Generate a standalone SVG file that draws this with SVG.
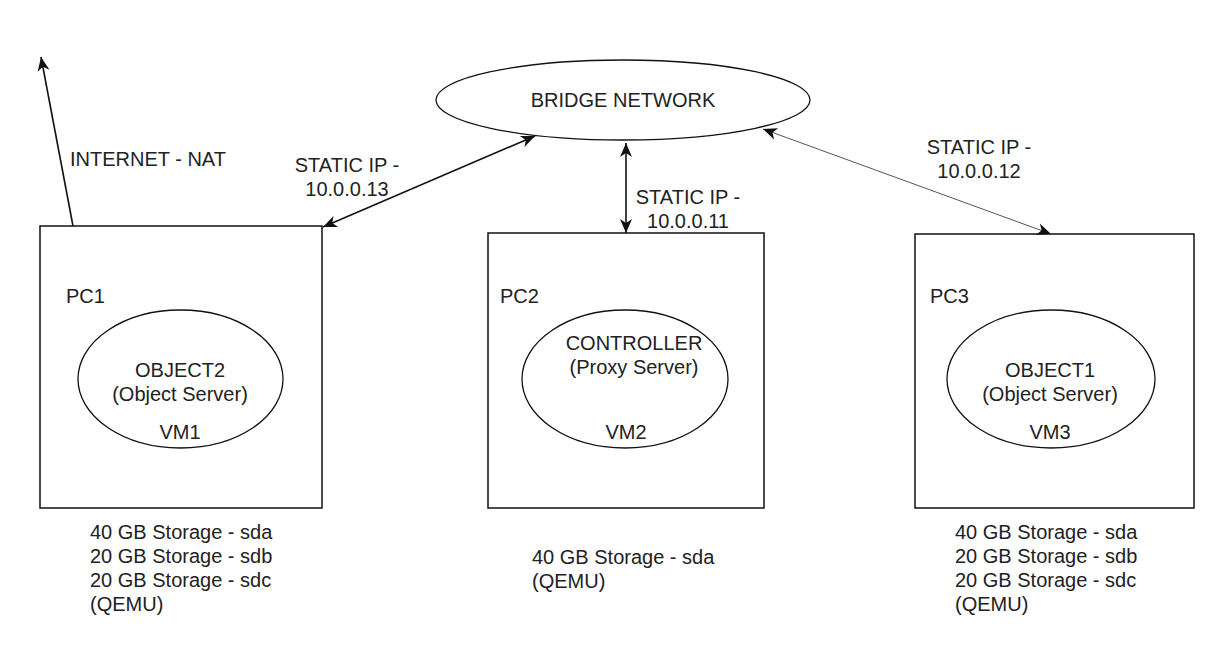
<svg xmlns="http://www.w3.org/2000/svg" width="1214" height="672" viewBox="0 0 1214 672">
<style>
text{font-family:"Liberation Sans",Arial,Helvetica,sans-serif;font-size:20px;fill:#222}
.c{text-anchor:middle}
.box{fill:#fff;stroke:#111;stroke-width:1.5}
.ell{fill:#fff;stroke:#111;stroke-width:1.3}
.ln{fill:none;stroke:#111;stroke-width:1.6}
.thin{fill:none;stroke:#555;stroke-width:1}
</style>
<defs>
<marker id="ar" markerUnits="userSpaceOnUse" markerWidth="16" markerHeight="12" refX="14" refY="6" orient="auto-start-reverse" overflow="visible">
<path d="M0,0 L14,6 L0,12 L4,6 z" fill="#111"/>
</marker>
</defs>
<rect width="1214" height="672" fill="#fff"/>
<g id="bridge">
<ellipse class="ell" cx="623" cy="100" rx="187" ry="40"/>
<text class="c" x="623" y="107">BRIDGE NETWORK</text>
</g>
<g id="pc1">
<rect class="box" x="40" y="226" width="282" height="282"/>
<text x="66" y="303">PC1</text>
<ellipse class="ell" cx="180.5" cy="379" rx="102.5" ry="69"/>
<text class="c" x="180" y="377">OBJECT2</text>
<text class="c" x="180" y="401">(Object Server)</text>
<text class="c" x="180" y="439">VM1</text>
</g>
<g id="pc2">
<rect class="box" x="488" y="233" width="276" height="275"/>
<text x="500" y="303">PC2</text>
<ellipse class="ell" cx="625" cy="379" rx="103" ry="69"/>
<text class="c" x="634" y="350">CONTROLLER</text>
<text class="c" x="634" y="374">(Proxy Server)</text>
<text class="c" x="626" y="439">VM2</text>
</g>
<g id="pc3">
<rect class="box" x="915" y="234" width="279" height="274"/>
<text x="930" y="303">PC3</text>
<ellipse class="ell" cx="1051" cy="379" rx="104" ry="69"/>
<text class="c" x="1050" y="377">OBJECT1</text>
<text class="c" x="1050" y="401">(Object Server)</text>
<text class="c" x="1050" y="439">VM3</text>
</g>
<g id="storage1">
<text x="90" y="539">40 GB Storage - sda</text>
<text x="90" y="563">20 GB Storage - sdb</text>
<text x="90" y="587">20 GB Storage - sdc</text>
<text x="90" y="611">(QEMU)</text>
</g>
<g id="storage2">
<text x="532" y="564">40 GB Storage - sda</text>
<text x="532" y="588">(QEMU)</text>
</g>
<g id="storage3">
<text x="955" y="539">40 GB Storage - sda</text>
<text x="955" y="563">20 GB Storage - sdb</text>
<text x="955" y="587">20 GB Storage - sdc</text>
<text x="955" y="611">(QEMU)</text>
</g>
<g id="connectors">
<line class="ln" x1="73" y1="226" x2="41" y2="57" marker-end="url(#ar)"/>
<line class="ln" x1="323" y1="227" x2="535" y2="136" marker-start="url(#ar)" marker-end="url(#ar)"/>
<line class="ln" x1="626" y1="143" x2="626" y2="233" marker-start="url(#ar)" marker-end="url(#ar)"/>
<line class="thin" x1="763" y1="129" x2="1051" y2="234" marker-start="url(#ar)" marker-end="url(#ar)"/>
</g>
<g id="labels">
<text x="70" y="166">INTERNET - NAT</text>
<text class="c" x="347" y="172">STATIC IP -</text>
<text class="c" x="347" y="196">10.0.0.13</text>
<text class="c" x="688" y="204">STATIC IP -</text>
<text class="c" x="688" y="228">10.0.0.11</text>
<text class="c" x="979" y="154">STATIC IP -</text>
<text class="c" x="979" y="178">10.0.0.12</text>
</g>
</svg>
